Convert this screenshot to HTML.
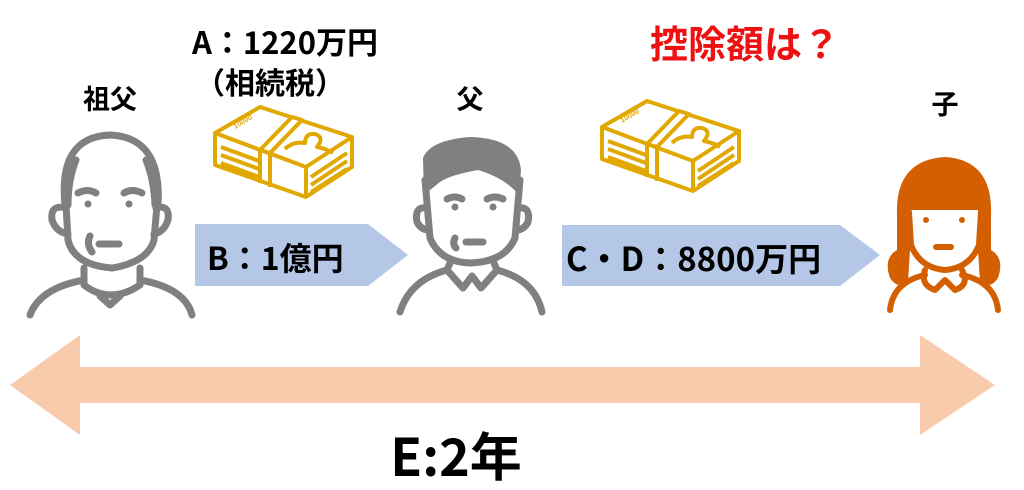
<!DOCTYPE html>
<html><head><meta charset="utf-8"><style>
html,body{margin:0;padding:0;background:#fff;}
svg{display:block}
text{font-family:"Noto Sans CJK JP","Liberation Sans",sans-serif;font-weight:bold;}
</style></head><body>
<svg width="1024" height="490" viewBox="0 0 1024 490" xmlns="http://www.w3.org/2000/svg">
<defs>
<g id="money" fill="none" stroke="#e0a800" stroke-width="4" stroke-linejoin="round">
  <polygon points="0,26 45,0 137,30 91,60" fill="#fff"/>
  <path d="M0,26 L0,58 L91,90 L137,60 L137,30"/>
  <path d="M91,60 L91,90"/>
  <path d="M6,40 L44,54 M6,48 L44,62 M6,56 L44,70 M96,70 L132,46 M96,78 L132,54 M96,85 L132,62"/>
  <polygon points="77,10 87,13 55,46 45,43" fill="#fff"/>
  <path d="M45,43 L45,76 M55,46 L55,80"/>
  <path d="M70,42 Q78,34 90,36 Q90,26 100,27 Q110,30 102,40 Q112,42 118,46"/>
  <text x="20" y="22" font-size="7" fill="#e0a800" stroke="none" transform="rotate(-30 20 22)">10000</text>
</g>
</defs>

<text x="285" y="54" font-size="31" text-anchor="middle">A：1220万円</text>
<text x="270" y="94" font-size="30" text-anchor="middle">（相続税）</text>
<text x="110" y="109" font-size="27" text-anchor="middle">祖父</text>
<text x="470" y="109" font-size="27" text-anchor="middle">父</text>
<text x="945" y="114" font-size="27" text-anchor="middle">子</text>
<text x="745" y="58" font-size="38" text-anchor="middle" fill="#ee1111">控除額は？</text>

<use href="#money" x="215" y="107"/>
<use href="#money" x="602" y="101"/>

<polygon points="195,224 368,224 408,255 368,286 195,286" fill="#b4c7e7"/>
<text x="207" y="270" font-size="32">B：1億円</text>
<polygon points="562,225 840,225 880,255 840,286 562,286" fill="#b4c7e7"/>
<text x="566" y="271" font-size="33">C・D：8800万円</text>

<!-- grandfather -->
<g fill="none" stroke="#808080" stroke-width="7" stroke-linecap="round" stroke-linejoin="round">
  <path d="M65,205 Q58,137 110,135 Q162,137 158,205"/>
  <path d="M68,205 Q68,180 76,160 M155,205 Q154,180 146,160"/>
  <path d="M66,205 L68,240 Q74,265 112,268 Q148,262 154,240 L157,205"/>
  <path d="M66,208 Q50,204 52,220 Q56,232 68,234 M156,208 Q170,204 168,220 Q164,232 154,234"/>
  <path d="M78,193 Q88,188 96,193 M124,193 Q132,188 142,193"/>
  <path d="M99,244 L119,244 M90,236 Q86,244 92,252"/>
  <path d="M84,268 L84,285 Q110,305 140,285 L140,268"/>
  <path d="M84,280 Q40,288 30,315 M140,280 Q185,288 192,315"/>
  <path d="M100,296 L110,305 L120,296"/>
</g>
<circle cx="88" cy="204" r="3.5" fill="#808080"/><circle cx="129" cy="204" r="3.5" fill="#808080"/>

<!-- father -->
<path d="M423,158 Q430,140 470,137 Q518,138 521,170 L519,195 Q505,178 478,170 Q450,175 440,182 L424,195 Z" fill="#808080"/>
<g fill="none" stroke="#808080" stroke-width="7" stroke-linecap="round" stroke-linejoin="round">
  <path d="M425,180 L430,238 Q440,262 470,263 Q505,262 515,238 L520,180"/>
  <path d="M427,208 Q414,206 417,222 Q421,230 429,230 M518,208 Q531,206 528,222 Q524,230 516,230"/>
  <path d="M447,199 Q455,195 462,199 M487,199 Q495,195 503,199"/>
  <path d="M466,242 L483,242 M455,238 Q452,244 456,248"/>
  <path d="M450,263 L447,270 L463,288 L472,276 L481,288 L497,270 L494,263"/>
  <path d="M447,270 Q410,280 400,312 M497,270 Q535,280 542,312"/>
</g>
<circle cx="455" cy="207" r="3.5" fill="#808080"/><circle cx="493" cy="207" r="3.5" fill="#808080"/>

<!-- child -->
<path d="M897,215 Q895,160 945,157 Q993,160 991,215 L991,250 Q1005,258 998,278 Q990,290 980,282 L978,250 L978,210 L910,210 L910,250 L908,282 Q898,290 890,278 Q883,258 897,250 Z" fill="#d35f00"/>
<g fill="none" stroke="#d35f00" stroke-width="6" stroke-linecap="round" stroke-linejoin="round">
  <path d="M909,212 L911,245 Q920,268 945,270 Q970,268 979,245 L981,212"/>
  <path d="M936,247 L951,247"/>
  <path d="M925,270 Q920,285 935,290 L945,280 L955,290 Q970,285 962,270"/>
  <path d="M925,275 Q893,282 890,310 M962,275 Q995,282 998,310"/>
</g>
<circle cx="926" cy="220" r="3" fill="#d35f00"/><circle cx="962" cy="220" r="3" fill="#d35f00"/>

<polygon points="10,385 80,335 80,367 920,367 920,335 995,385 920,435 920,403 80,403 80,435" fill="#f8cbad"/>
<text x="456" y="476" font-size="52" text-anchor="middle">E:2年</text>
</svg>
</body></html>
